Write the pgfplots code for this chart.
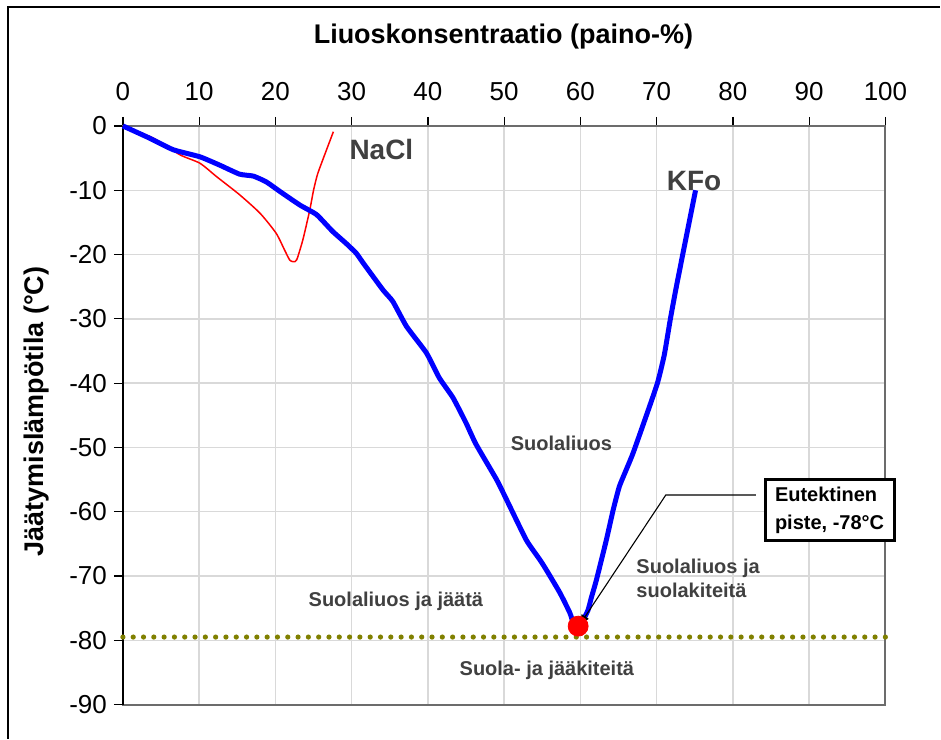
\documentclass[border=0pt]{standalone}
\usepackage{fontspec}
\setmainfont{Liberation Sans}
\usepackage{pgfplots}
\pgfplotsset{compat=1.18}
\usetikzlibrary{arrows.meta}
\definecolor{kfo}{RGB}{0,0,255}
\definecolor{nacl}{RGB}{255,0,0}
\definecolor{dotolive}{RGB}{128,128,0}
\definecolor{lab}{RGB}{64,64,64}
\begin{document}
\begin{tikzpicture}
\begin{axis}[
 scale only axis, width=381.5pt, height=289.5pt,
 xmin=0, xmax=100, ymin=-90, ymax=0,
 xtick={0,10,...,100}, ytick={-90,-80,...,0},
 xtick pos=right, xticklabel pos=right, ytick pos=left,
 tick align=outside, major tick length=4.5pt,
 tick style={black, line width=0.6pt},
 grid=major, grid style={gray!30, line width=0.7pt},
 axis line style={draw=gray!85!black, line width=1pt},
 ticklabel style={font=\fontsize{13}{15}\selectfont},
 /pgf/number format/assume math mode=true,
 xticklabel style={yshift=4.5pt},
 clip=false,
]
% bounding area and outer frame
\path (axis cs:-16.12,19.59) rectangle (axis cs:107.21,-95.29);
\draw[black, line width=0.6pt] (axis cs:-15.07,-95.29) -- (axis cs:-15.07,18.5) -- (axis cs:107.21,18.5);
\draw[black, line width=0.6pt] (rel axis cs:0,0) -- (rel axis cs:0,1);

% eutectic dotted line
\addplot[dotolive, line width=2.6pt, dash pattern=on 0pt off 5.155pt, line cap=round] coordinates {(0,-79.5) (100,-79.5)};

% NaCl
\addplot[nacl, line width=0.75pt, smooth, tension=0.4] coordinates {
(0,0) (4.0,-1.9) (7.5,-4.5) (10.1,-5.8) (12.3,-7.9) (15.3,-10.7) (18.0,-13.6) (20.1,-16.7) (21.2,-19.3) (21.9,-20.9) (22.4,-21.1) (22.8,-20.8) (23.6,-17.7) (24.5,-13.1) (25.0,-10.0) (25.5,-7.6) (26.2,-5.3) (27.6,-0.9)
};

% KFo, left branch
\addplot[kfo, line width=2.5pt, smooth, tension=0.3] coordinates {
(0,0) (3.5,-1.9) (6.6,-3.7) (10.1,-4.8) (12.7,-6.1) (15.3,-7.5) (17.1,-7.8) (18.8,-8.7) (20.6,-10.2) (23.2,-12.3) (25.4,-13.8) (27.5,-16.4) (29.3,-18.3) (30.6,-19.8) (31.5,-21.3) (34.1,-25.5) (35.4,-27.3) (37.2,-31.2) (39.8,-35.3) (41.5,-39.2) (43.3,-42.3) (45.0,-46.2) (46.3,-49.5) (49.0,-55.0) (50.3,-58.1) (52.9,-64.4) (54.7,-67.5) (55.5,-69.0) (57.3,-72.6) (58.6,-75.7) (59.1,-77.4) (59.7,-78.0)
};
% KFo, right branch
\addplot[kfo, line width=2.5pt, smooth, tension=0.3] coordinates {
(59.7,-78.0) (60.3,-77.0) (61.0,-75.3) (61.4,-73.5) (62.1,-70.6) (63.4,-64.4) (64.3,-59.7) (65.1,-56.1) (66.0,-53.5) (66.9,-50.9) (68.6,-45.2) (70.1,-40.0) (71.0,-35.6) (71.8,-30.0) (72.5,-25.5) (73.5,-19.5) (75.1,-10.0)
};

% eutectic point
\addplot[only marks, mark=*, mark size=5pt, mark options={draw=nacl, fill=nacl}] coordinates {(59.7,-77.8)};

% leader line
\draw[black, line width=0.55pt, -{Latex[length=5pt,width=4.5pt]}] (axis cs:83.0,-57.4) -- (axis cs:71.2,-57.4) -- (axis cs:59.9,-77.6);

% box
\node[draw=black, line width=1.5pt, fill=white, align=left, font=\bfseries\fontsize{10}{14}\selectfont, minimum width=64.5pt, minimum height=30.5pt, inner xsep=4pt] at (axis cs:92.67,-59.77) {Eutektinen\\piste, -78°C};

% labels
\node[lab, font=\bfseries\fontsize{14}{16}\selectfont, inner sep=0pt] at (axis cs:33.9,-3.6) {NaCl};
\node[lab, font=\bfseries\fontsize{14}{16}\selectfont, inner sep=0pt] at (axis cs:74.9,-8.55) {KFo};
\node[lab, font=\bfseries\fontsize{10}{12}\selectfont, inner sep=0pt] at (axis cs:57.5,-49.3) {Suolaliuos};
\node[lab, font=\bfseries\fontsize{10}{12}\selectfont, inner sep=0pt] at (axis cs:35.8,-73.9) {Suolaliuos ja jäätä};
\node[lab, font=\bfseries\fontsize{10}{12}\selectfont, inner sep=0pt] at (axis cs:55.6,-84.6) {Suola- ja jääkiteitä};
\node[lab, font=\bfseries\fontsize{10}{12}\selectfont, inner sep=0pt, align=left, anchor=west] at (axis cs:67.3,-70.4) {Suolaliuos ja\\suolakiteitä};

% titles
\node[black, font=\bfseries\fontsize{13.5}{15}\selectfont, anchor=base] at (axis cs:49.9,12.9) {Liuoskonsentraatio (paino-\%)};
\node[black, font=\bfseries\fontsize{13.5}{15}\selectfont, rotate=90] at (axis cs:-11.27,-44.4) {Jäätymislämpötila (°C)};
\end{axis}
\end{tikzpicture}
\end{document}
